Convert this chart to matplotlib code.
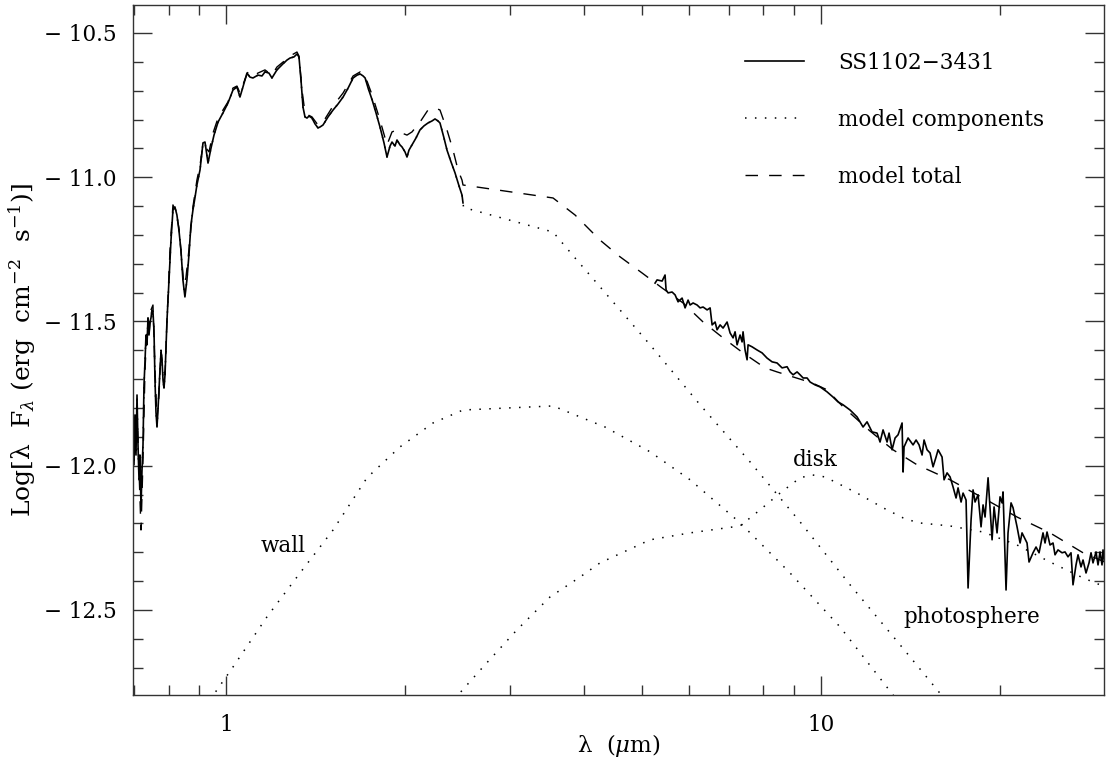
import matplotlib
matplotlib.use('Agg')
import matplotlib.pyplot as plt
from matplotlib.ticker import FixedLocator, NullFormatter, FixedFormatter, MultipleLocator
from matplotlib.lines import Line2D

plt.rcParams['font.family'] = ['DejaVu Serif']
plt.rcParams['mathtext.fontset'] = 'dejavuserif'

# ---------------- data (wavelength in micron, log lambda F_lambda) ----------------
# observed optical / near-IR spectrum
opt_wl = [0.6963, 0.6990, 0.7017, 0.7044, 0.7072, 0.7099, 0.7127, 0.7154, 0.7182, 0.7210,
          0.7238, 0.7266, 0.7294, 0.7322, 0.7351, 0.7379, 0.7408, 0.7437, 0.7465, 0.7494,
          0.7523, 0.7552, 0.7582, 0.7611, 0.7641, 0.7670, 0.7700, 0.7730, 0.7761, 0.7791,
          0.7821, 0.7851, 0.7882, 0.7943, 0.8005, 0.8067, 0.8128, 0.8190, 0.8254, 0.8318,
          0.8383, 0.8448, 0.8514, 0.8580, 0.8647, 0.8714, 0.8782, 0.8850, 0.8919, 0.9026,
          0.9131, 0.9202, 0.9310, 0.9419, 0.9529, 0.9678, 0.9866, 1.0058, 1.0254, 1.0415,
          1.0537, 1.0660, 1.0826, 1.0953, 1.1081, 1.1297, 1.1473, 1.1608, 1.1788, 1.1926,
          1.2159, 1.2445, 1.2639, 1.2787, 1.2987, 1.3140, 1.3242, 1.3346, 1.3450, 1.3554,
          1.3659, 1.3766, 1.3926, 1.4089, 1.4254, 1.4365, 1.4534, 1.4820, 1.5111, 1.5407,
          1.5709, 1.6017, 1.6330, 1.6586, 1.6779, 1.6975, 1.7108, 1.7308, 1.7579, 1.7845,
          1.8123, 1.8406, 1.8621, 1.8839, 1.8986, 1.9207, 1.9356, 1.9581, 1.9734, 1.9964,
          2.0120, 2.0277, 2.0514, 2.0834, 2.1159, 2.1490, 2.1825, 2.2166, 2.2425, 2.2686,
          2.2863, 2.3220, 2.3491, 2.3862, 2.4234, 2.4611, 2.4899, 2.4994]
opt_obs = [-11.772, -11.997, -11.824, -11.963, -11.755, -11.928, -12.049, -11.963, -12.146, -12.015,
           -11.928, -11.720, -11.640, -11.547, -11.581, -11.488, -11.547, -11.502, -11.488, -11.460,
           -11.467, -11.529, -11.703, -11.814, -11.866, -11.807, -11.737, -11.668, -11.606, -11.633,
           -11.703, -11.731, -11.685, -11.495, -11.356, -11.218, -11.114, -11.103, -11.131, -11.183,
           -11.252, -11.356, -11.415, -11.356, -11.270, -11.166, -11.114, -11.072, -11.027, -10.975,
           -10.881, -10.878, -10.951, -10.899, -10.854, -10.809, -10.777, -10.743, -10.698, -10.687,
           -10.722, -10.687, -10.639, -10.653, -10.656, -10.646, -10.649, -10.635, -10.639, -10.656,
           -10.628, -10.607, -10.594, -10.587, -10.583, -10.573, -10.583, -10.663, -10.757, -10.791,
           -10.795, -10.788, -10.795, -10.815, -10.829, -10.826, -10.819, -10.791, -10.767, -10.746,
           -10.722, -10.691, -10.656, -10.646, -10.642, -10.649, -10.656, -10.691, -10.732, -10.777,
           -10.826, -10.881, -10.930, -10.892, -10.878, -10.892, -10.871, -10.888, -10.895, -10.912,
           -10.930, -10.906, -10.888, -10.864, -10.836, -10.822, -10.812, -10.805, -10.798, -10.805,
           -10.812, -10.864, -10.906, -10.947, -10.985, -11.030, -11.062, -11.089]

# observed mid-IR (IRS) spectrum
irs_wl = [5.259, 5.300, 5.404, 5.466, 5.488, 5.531, 5.617, 5.683, 5.749, 5.839,
          5.907, 5.976, 6.023, 6.093, 6.188, 6.261, 6.334, 6.433, 6.508, 6.559,
          6.635, 6.686, 6.765, 6.843, 6.950, 7.032, 7.114, 7.169, 7.225, 7.309,
          7.366, 7.394, 7.452, 7.510, 7.539, 7.657, 7.807, 7.959, 8.114, 8.273,
          8.435, 8.600, 8.768, 8.870, 8.975, 9.115, 9.222, 9.330, 9.475, 9.586,
          9.773, 9.966, 10.235, 10.475, 10.681, 10.891, 11.190, 11.498, 11.768, 11.952,
          12.186, 12.424, 12.569, 12.716, 12.915, 13.015, 13.167, 13.322, 13.477, 13.688,
          13.741, 13.794, 14.009, 14.283, 14.451, 14.619, 14.790, 14.905, 15.079, 15.256,
          15.433, 15.614, 15.737, 15.981, 16.105, 16.294, 16.484, 16.677, 16.871, 17.002,
          17.202, 17.335, 17.537, 17.674, 17.880, 18.019, 18.159, 18.371, 18.585, 18.731,
          18.876, 19.098, 19.396, 19.546, 19.773, 20.004, 20.160, 20.238, 20.474, 20.632,
          20.875, 21.038, 21.366, 21.618, 21.783, 22.208, 22.381, 22.729, 22.996, 23.266,
          23.626, 23.811, 23.996, 24.276, 24.560, 24.751, 25.038, 25.432, 25.728, 26.027,
          26.332, 26.536, 26.847, 27.056, 27.371, 27.586, 27.908, 28.235, 28.455, 28.674,
          29.009, 29.235, 29.462, 29.691, 29.806, 30.03]
irs_obs = [-11.367, -11.356, -11.360, -11.339, -11.391, -11.401, -11.398, -11.408, -11.432, -11.419,
           -11.453, -11.426, -11.443, -11.436, -11.443, -11.453, -11.450, -11.460, -11.453, -11.512,
           -11.502, -11.529, -11.512, -11.523, -11.502, -11.540, -11.557, -11.536, -11.581, -11.547,
           -11.571, -11.536, -11.599, -11.633, -11.581, -11.588, -11.599, -11.609, -11.627, -11.640,
           -11.644, -11.661, -11.657, -11.675, -11.685, -11.675, -11.685, -11.696, -11.696, -11.710,
           -11.720, -11.727, -11.744, -11.762, -11.779, -11.789, -11.807, -11.831, -11.866, -11.848,
           -11.883, -11.887, -11.918, -11.876, -11.918, -11.887, -11.945, -11.904, -11.893, -11.852,
           -12.022, -11.935, -11.904, -11.928, -11.911, -11.928, -11.963, -11.911, -11.945, -11.956,
           -12.004, -11.970, -11.945, -11.970, -12.049, -12.025, -12.039, -12.074, -12.112, -12.077,
           -12.126, -12.095, -12.119, -12.424, -12.188, -12.084, -12.126, -12.101, -12.212, -12.136,
           -12.178, -12.042, -12.257, -12.143, -12.233, -12.108, -12.129, -12.091, -12.431, -12.233,
           -12.129, -12.146, -12.212, -12.268, -12.233, -12.268, -12.334, -12.302, -12.282, -12.302,
           -12.233, -12.268, -12.230, -12.275, -12.268, -12.309, -12.292, -12.302, -12.299, -12.316,
           -12.302, -12.413, -12.344, -12.309, -12.351, -12.327, -12.372, -12.337, -12.302, -12.337,
           -12.299, -12.344, -12.299, -12.344, -12.292, -12.344]

# model total
tot_wl = [0.6963, 0.7017, 0.7072, 0.7127, 0.7182, 0.7238, 0.7294, 0.7351, 0.7408, 0.7465,
          0.7523, 0.7582, 0.7641, 0.7700, 0.7761, 0.7821, 0.7882, 0.7943, 0.8036, 0.8128,
          0.8222, 0.8318, 0.8415, 0.8481, 0.8547, 0.8647, 0.8782, 0.8919, 0.9026, 0.9131,
          0.9238, 0.9346, 0.9492, 0.9678, 0.9866, 1.0058, 1.0254, 1.0415, 1.0537, 1.0701,
          1.0868, 1.1081, 1.1297, 1.1608, 1.1926, 1.2159, 1.2445, 1.2787, 1.3140, 1.3242,
          1.3398, 1.3554, 1.3712, 1.3926, 1.4254, 1.4534, 1.5111, 1.5709, 1.6330, 1.6779,
          1.7108, 1.7579, 1.8123, 1.8621, 1.8986, 1.9356, 1.9734, 2.0120, 2.0514, 2.1159,
          2.1825, 2.2425, 2.2863, 2.3491, 2.4047, 2.4516, 2.4899, 2.4994,
          3.5425, 3.8575, 4.2493, 4.592, 5.001, 5.404, 5.862, 6.334, 6.843, 7.394,
          8.052, 8.435, 9.661, 10.235, 10.891, 12.092, 13.218, 14.506, 16.484, 18.731,
          21.366, 24.276, 27.586, 30.03]
tot_lf = [-11.841, -11.911, -11.807, -12.015, -12.223, -11.980, -11.668, -11.529, -11.547, -11.460,
          -11.443, -11.668, -11.841, -11.755, -11.599, -11.668, -11.685, -11.495, -11.252, -11.096,
          -11.120, -11.176, -11.294, -11.374, -11.349, -11.252, -11.103, -11.010, -10.958, -10.888,
          -10.899, -10.912, -10.847, -10.795, -10.767, -10.739, -10.691, -10.684, -10.708, -10.670,
          -10.635, -10.649, -10.639, -10.628, -10.646, -10.618, -10.601, -10.580, -10.566, -10.580,
          -10.698, -10.777, -10.784, -10.791, -10.819, -10.809, -10.753, -10.708, -10.649, -10.635,
          -10.649, -10.715, -10.802, -10.888, -10.843, -10.836, -10.847, -10.854, -10.843, -10.809,
          -10.767, -10.760, -10.767, -10.836, -10.906, -10.975, -11.010, -11.027,
          -11.072, -11.131, -11.218, -11.276, -11.332, -11.384, -11.436, -11.502, -11.557, -11.609,
          -11.661, -11.675, -11.713, -11.737, -11.796, -11.880, -11.945, -11.997, -12.049, -12.112,
          -12.178, -12.233, -12.302, -12.334]

# model components
phot_ext_wl = [2.505, 3.5425, 3.8575, 4.2493, 5.158, 6.2605, 7.5977, 9.2218, 11.19, 13.582, 16.043]
phot_ext_lf = [-11.105, -11.190, -11.280, -11.380, -11.581, -11.789, -11.987, -12.195, -12.413, -12.621, -12.802]

wall_wl = [0.9381, 1.0255, 1.1699, 1.3295, 1.5111, 1.7232, 1.9581, 2.2254, 2.4994, 3.2775,
           3.5425, 3.933, 4.332, 5.158, 6.023, 7.309, 8.870, 10.764, 13.218, 13.582]
wall_lf = [-12.812, -12.698, -12.524, -12.372, -12.223, -12.042, -11.935, -11.852, -11.807, -11.796,
           -11.793, -11.831, -11.866, -11.952, -12.049, -12.198, -12.372, -12.559, -12.795, -12.829]

disk_wl = [2.4234, 2.4517, 2.7004, 3.0807, 3.5016, 3.933, 4.2493, 5.158, 6.023, 7.309,
           7.898, 8.533, 9.2218, 9.661, 10.156, 11.498, 12.716, 13.741, 14.563, 16.484,
           18.731, 21.366, 24.276, 27.586, 30.03]
disk_lf = [-12.812, -12.795, -12.698, -12.569, -12.455, -12.386, -12.337, -12.257, -12.233, -12.209,
           -12.153, -12.095, -12.042, -12.032, -12.039, -12.095, -12.146, -12.181, -12.198, -12.209,
           -12.230, -12.275, -12.334, -12.389, -12.420]

legend_labels = ['SS1102\u22123431', 'model components', 'model total']
component_names = ['wall', 'disk', 'photosphere']
component_label_pos = [(1.2446, -12.278), (9.77, -11.980), (17.95, -12.524)]

x_major = [1, 10]
x_major_labels = ['1', '10']
x_minor = [0.7, 0.8, 0.9, 2, 3, 4, 5, 6, 7, 8, 9, 20, 30]

# ---------------- figure ----------------
FS = 15.5
fig = plt.figure(figsize=(11.06, 7.76), dpi=100)
ax = fig.add_axes([133 / 1106, 1 - 695 / 776, 971 / 1106, 690 / 776])

dot_style = (0, (1, 5.5))
dash_style = (0, (9, 8))

phot_wl = opt_wl + phot_ext_wl
phot_lf = opt_obs + phot_ext_lf
ax.plot(phot_wl, phot_lf, color='black', lw=1.1, linestyle=dot_style)
ax.plot(wall_wl, wall_lf, color='black', lw=1.1, linestyle=dot_style)
ax.plot(disk_wl, disk_lf, color='black', lw=1.1, linestyle=dot_style)
ln_tot, = ax.plot(tot_wl, tot_lf, color='black', lw=1.0, linestyle=dash_style)
ln_obs, = ax.plot(opt_wl, opt_obs, color='black', lw=1.2, solid_joinstyle='round')
ax.plot(irs_wl, irs_obs, color='black', lw=1.2, solid_joinstyle='round')

h_comp = Line2D([], [], color='black', lw=1.1, linestyle=dot_style)
leg = ax.legend([ln_obs, h_comp, ln_tot], legend_labels, loc='upper left',
                bbox_to_anchor=(0.630, 0.932), frameon=False, fontsize=FS,
                handlelength=2.75, handletextpad=1.6, labelspacing=1.62,
                borderpad=0, borderaxespad=0)

for name, (xx, yy) in zip(component_names, component_label_pos):
    ax.text(xx, yy, name, ha='center', va='center', fontsize=FS)

ax.set_xscale('log')
ax.set_xlim(0.6963, 29.92)
ax.set_ylim(-12.795, -10.403)

ax.xaxis.set_major_locator(FixedLocator(x_major))
ax.xaxis.set_major_formatter(FixedFormatter(x_major_labels))
ax.xaxis.set_minor_locator(FixedLocator(x_minor))
ax.xaxis.set_minor_formatter(NullFormatter())
ax.yaxis.set_major_locator(MultipleLocator(0.5))
ax.yaxis.set_minor_locator(MultipleLocator(0.1))
ax.yaxis.set_major_formatter(plt.FuncFormatter(lambda v, p: ('%.1f' % v).replace('-', '\u2212 ')))

ax.tick_params(which='both', direction='in', top=True, right=True, colors='#333333',
               labelcolor='black', labelsize=FS, width=1.0)
ax.tick_params(which='major', length=14)
ax.tick_params(which='minor', length=7)
ax.tick_params(axis='x', which='major', pad=14)
ax.tick_params(axis='y', which='major', pad=12)
for s in ax.spines.values():
    s.set_linewidth(1.0)
    s.set_color('#333333')

ax.set_xlabel('\u03bb  ($\\mu$m)', fontsize=16.5, labelpad=-3)
ax.set_ylabel('Log[\u03bb  F$_{\\lambda}$ (erg  cm$^{-2}$  s$^{-1}$)]', fontsize=18, labelpad=4)

fig.savefig('out.png', dpi=100)
